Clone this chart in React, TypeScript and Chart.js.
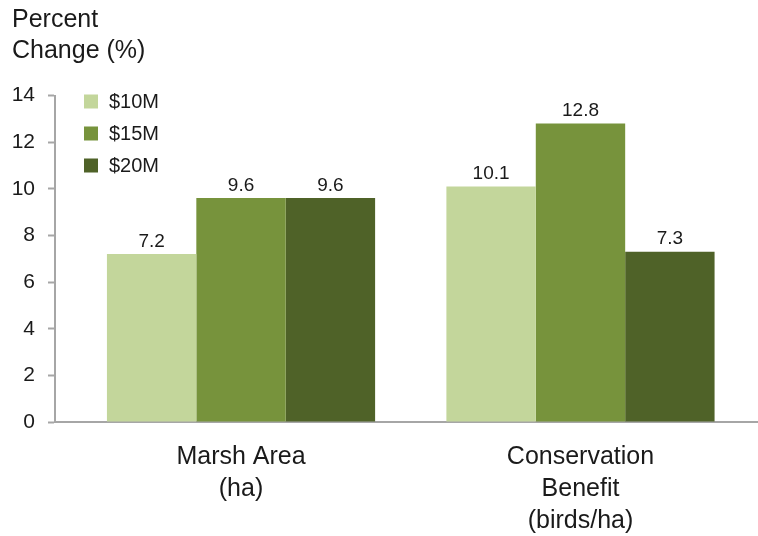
import React, { useEffect, useRef } from "react";
import { Chart, registerables, CategoryScale } from "chart.js";

Chart.register(...registerables);

const categories: string[][] = [["Marsh Area", "(ha)"], ["Conservation", "Benefit", "(birds/ha)"]];
const seriesNames = ["$10M", "$15M", "$20M"];
const values10 = [7.2, 10.1];
const values15 = [9.6, 12.8];
const values20 = [9.6, 7.3];
const seriesColors = ["#c3d69b", "#77933c", "#4f6228"];
const titleLines = ["Percent", "Change (%)"];
const yTicks = { min: 0, max: 14, step: 2 };

const FONT = "'Liberation Sans', Arial, sans-serif";
const TEXT = "#1a1a1a";
const AXIS = "#a6a6a6";

// Category scale with uneven outer padding (in category units) on each side
class PaddedCategoryScale extends (CategoryScale as any) {
  static id = "paddedCategory";
  static defaults = {};
  buildTicks() {
    const ticks = super.buildTicks();
    const o: any = (this as any).options;
    const startPad = o.startPad ?? 0.5;
    const endPad = o.endPad ?? 0.5;
    const self: any = this;
    self._startValue = self.min - startPad;
    self._valueRange = self.max - self.min + startPad + endPad;
    return ticks;
  }
}
Chart.register(PaddedCategoryScale as any);

const valueLabels = {
  id: "valueLabels",
  afterDatasetsDraw(chart: any) {
    const ctx = chart.ctx;
    ctx.save();
    ctx.font = `19px ${FONT}`;
    ctx.fillStyle = TEXT;
    ctx.textAlign = "center";
    ctx.textBaseline = "bottom";
    chart.data.datasets.forEach((ds: any, i: number) => {
      const meta = chart.getDatasetMeta(i);
      meta.data.forEach((bar: any, j: number) => {
        ctx.fillText(String(ds.data[j]), bar.x, bar.y - 3);
      });
    });
    ctx.restore();
  },
};

const innerLegend = {
  id: "innerLegend",
  afterDraw(chart: any) {
    const ctx = chart.ctx;
    const area = chart.chartArea;
    ctx.save();
    ctx.font = `20px ${FONT}`;
    ctx.textAlign = "left";
    ctx.textBaseline = "middle";
    chart.data.datasets.forEach((ds: any, i: number) => {
      const top = area.top - 1 + i * 32;
      ctx.fillStyle = ds.backgroundColor;
      ctx.fillRect(area.left + 29, top, 14, 14);
      ctx.fillStyle = TEXT;
      ctx.fillText(ds.label, area.left + 54, top + 8);
    });
    ctx.restore();
  },
};

export default function App() {
  const ref = useRef<HTMLCanvasElement | null>(null);
  useEffect(() => {
    document.body.style.margin = "0";
    const canvas = ref.current!;
    const chart = new Chart(canvas, {
      type: "bar",
      data: {
        labels: categories as any,
        datasets: [values10, values15, values20].map((d, i) => ({
          label: seriesNames[i],
          data: d,
          backgroundColor: seriesColors[i],
          borderWidth: 0,
          categoryPercentage: 0.79,
          barPercentage: 1.0,
        })),
      },
      options: {
        responsive: false,
        animation: false,
        layout: { padding: { left: 12, right: 1, top: 0, bottom: 0 } },
        plugins: {
          legend: { display: false },
          tooltip: { enabled: false },
          title: {
            display: true,
            text: titleLines,
            align: "start",
            color: TEXT,
            font: { family: FONT, size: 25, weight: "normal", lineHeight: 1.25 },
            padding: { top: 4, bottom: 29 },
          },
        },
        scales: {
          x: {
            type: "paddedCategory" as any,
            offset: true,
            startPad: 0.548,
            endPad: 0.52,
            grid: { display: false, drawTicks: false },
            border: { display: true, color: AXIS, width: 2 },
            ticks: {
              color: TEXT,
              font: { family: FONT, size: 25, lineHeight: 1.28 },
              padding: 19,
              maxRotation: 0,
              autoSkip: false,
            },
            afterFit(scale: any) {
              scale.height = 114;
            },
          } as any,
          y: {
            min: yTicks.min,
            max: yTicks.max,
            grid: {
              display: true,
              drawOnChartArea: false,
              drawTicks: true,
              tickLength: 7,
              tickColor: AXIS,
              tickWidth: 2,
            },
            border: { display: true, color: AXIS, width: 2 },
            ticks: {
              stepSize: yTicks.step,
              color: TEXT,
              font: { family: FONT, size: 21 },
              padding: 13,
            },
            afterFit(scale: any) {
              scale.width = 43;
            },
          },
        },
      },
      plugins: [valueLabels, innerLegend],
    });
    return () => chart.destroy();
  }, []);
  return (
    <div style={{ width: 758, height: 536 }}>
      <canvas ref={ref} width={758} height={536} />
    </div>
  );
}
